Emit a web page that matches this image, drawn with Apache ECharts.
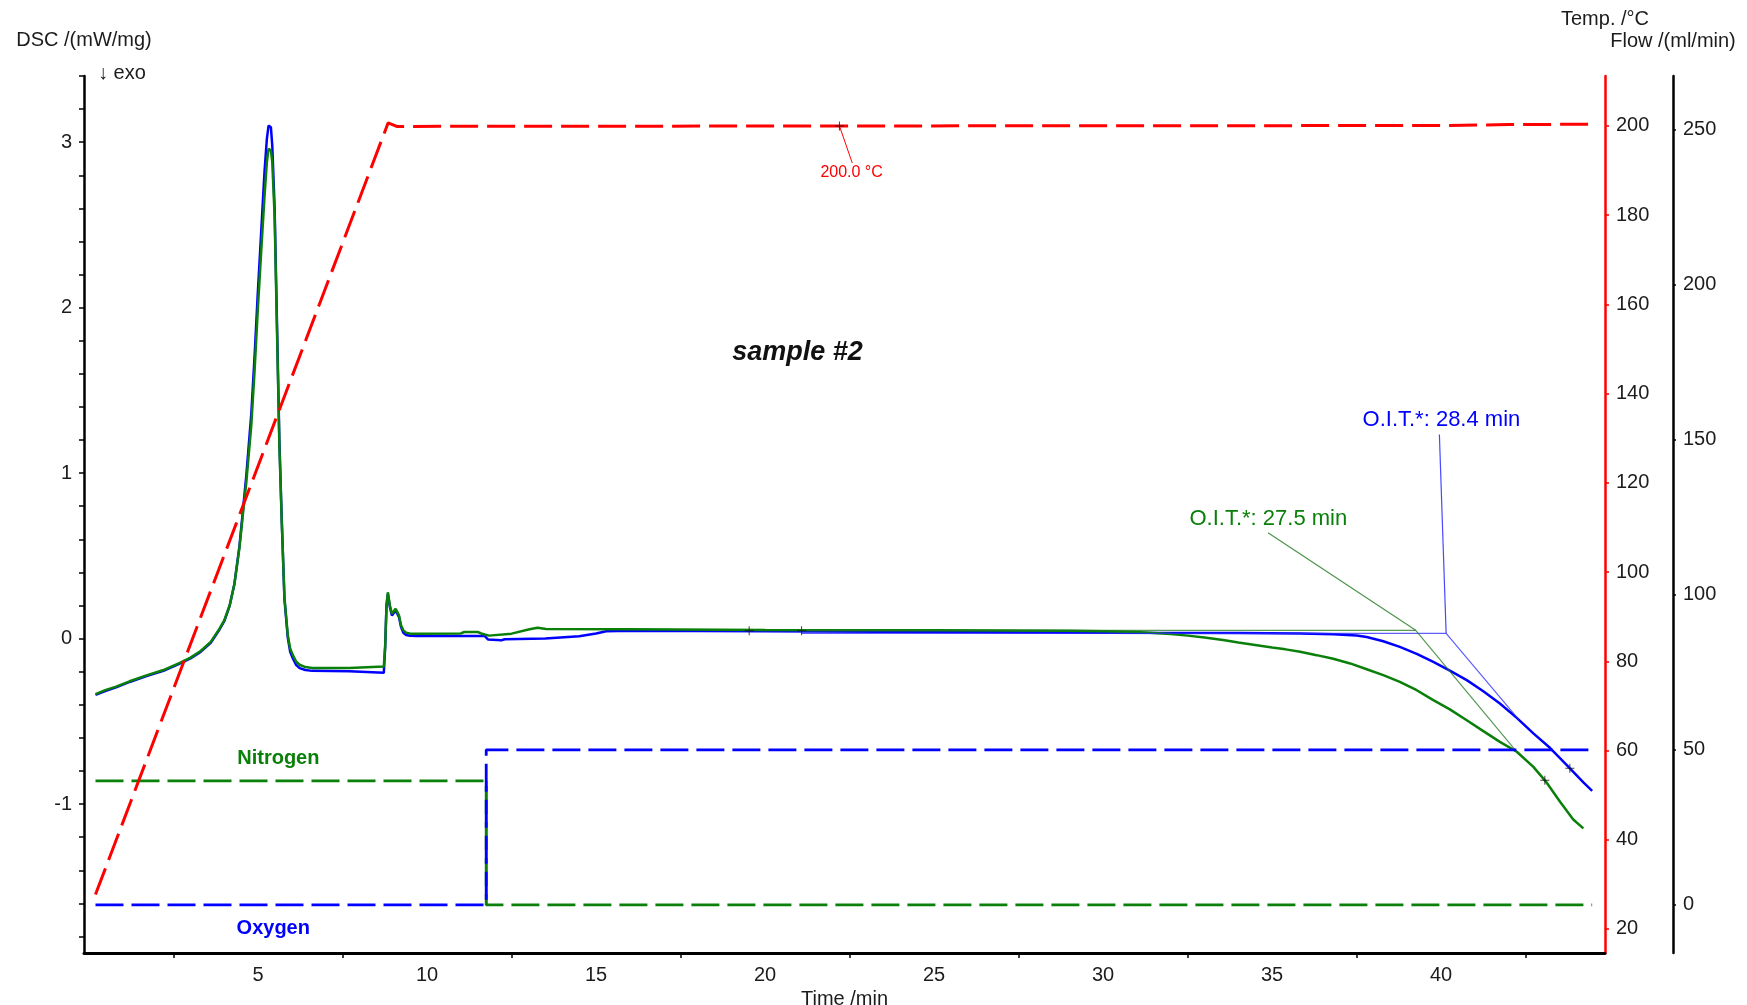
<!DOCTYPE html>
<html>
<head>
<meta charset="utf-8">
<script src="https://cdn.jsdelivr.net/npm/echarts@6/dist/echarts.min.js"></script>
<style>
  html, body { margin: 0; padding: 0; background: #fff; }
  #chart { width: 1747px; height: 1005px; }
</style>
</head>
<body>
<div id="chart"></div>
<script>
// ---- DSC curves (mW/mg) over time (min) ----
const dscTimeBlue = [0.19, 0.5, 0.8, 1.2, 1.7, 2.2, 2.7, 3.0, 3.3, 3.6, 3.86, 4.0, 4.16, 4.3, 4.45, 4.55, 4.65, 4.8, 4.9, 4.99,
  5.09, 5.19, 5.26, 5.31, 5.34, 5.38, 5.42, 5.49, 5.56, 5.63, 5.70, 5.78, 5.88, 5.95, 6.03, 6.13, 6.23, 6.4, 6.6, 7.7,
  7.72, 8.72, 8.76, 8.8, 8.84, 8.9, 8.96, 9.01, 9.07, 9.12, 9.17, 9.23, 9.3, 9.38, 9.5, 9.7, 11.7, 11.8, 12.2, 12.3,
  13.5, 14.5, 15.0, 15.3, 16.0, 20.0, 25.0, 30.0, 34.0, 35.83, 36.81, 37.5, 37.8, 38.29, 38.78, 39.28, 39.77, 40.26, 40.76, 41.25,
  41.74, 42.24, 42.73, 43.22, 43.72, 44.21, 44.47];
const dscBlue = [-0.34, -0.315, -0.295, -0.262, -0.226, -0.195, -0.15, -0.12, -0.08, -0.025, 0.055, 0.105, 0.2, 0.33, 0.56, 0.77, 0.98, 1.36, 1.72, 2.08,
  2.45, 2.82, 3.02, 3.10, 3.11, 3.09, 2.98, 2.6, 1.9, 1.2, 0.72, 0.24, 0.005, -0.08, -0.12, -0.16, -0.178, -0.19, -0.195, -0.197,
  -0.205, -0.207, -0.05, 0.2, 0.27, 0.19, 0.14, 0.13, 0.17, 0.18, 0.13, 0.07, 0.035, 0.022, 0.017, 0.016, 0.016, -0.005, -0.01, -0.004,
  0.0, 0.014, 0.031, 0.045, 0.047, 0.045, 0.04, 0.036, 0.034, 0.031, 0.027, 0.019, 0.010, -0.016, -0.050, -0.092, -0.141, -0.193, -0.251, -0.318,
  -0.392, -0.479, -0.573, -0.660, -0.765, -0.869, -0.92];

const dscTimeGreen = [0.19, 0.5, 0.8, 1.2, 1.7, 2.2, 2.7, 3.0, 3.3, 3.6, 3.86, 4.0, 4.16, 4.3, 4.45, 4.55, 4.65, 4.8, 4.9, 4.99,
  5.09, 5.19, 5.26, 5.31, 5.34, 5.38, 5.42, 5.49, 5.56, 5.63, 5.70, 5.78, 5.88, 5.95, 6.03, 6.13, 6.23, 6.4, 6.6, 7.7,
  7.72, 8.72, 8.76, 8.8, 8.84, 8.9, 8.96, 9.01, 9.07, 9.12, 9.17, 9.23, 9.3, 9.38, 9.5, 9.7, 11.0, 11.1, 11.5, 11.6,
  11.83, 12.5, 13.03, 13.27, 13.52, 16.0, 20.0, 25.0, 29.0, 30.0, 31.0, 32.0, 32.5, 33.0, 33.6, 34.0, 34.5, 35.0, 35.4, 35.83,
  36.32, 36.81, 37.31, 37.8, 38.29, 38.78, 39.28, 39.77, 40.26, 40.76, 41.25, 41.74, 42.24, 42.73, 43.09, 43.52, 43.91, 44.21];
const dscGreen = [-0.336, -0.31, -0.29, -0.258, -0.222, -0.19, -0.145, -0.115, -0.075, -0.02, 0.06, 0.11, 0.2, 0.33, 0.55, 0.75, 0.94, 1.29, 1.63, 1.98,
  2.33, 2.67, 2.88, 2.96, 2.97, 2.95, 2.88, 2.55, 1.86, 1.17, 0.71, 0.25, 0.02, -0.06, -0.10, -0.14, -0.158, -0.172, -0.177, -0.177,
  -0.168, -0.168, -0.05, 0.2, 0.28, 0.2, 0.15, 0.14, 0.18, 0.19, 0.14, 0.08, 0.05, 0.036, 0.03, 0.03, 0.031, 0.04, 0.04, 0.031,
  0.018, 0.03, 0.057, 0.066, 0.058, 0.056, 0.052, 0.05, 0.048, 0.045, 0.04, 0.028, 0.018, 0.007, -0.01, -0.024, -0.038, -0.054, -0.065, -0.080,
  -0.100, -0.122, -0.150, -0.185, -0.221, -0.261, -0.312, -0.372, -0.428, -0.493, -0.559, -0.624, -0.684, -0.775, -0.861, -0.986, -1.093, -1.147];

// ---- furnace temperature (°C) ----
const tempTime = [0.19, 8.85, 9.1, 22.2, 40.0, 42.0, 44.47];
const tempValue = [27.7, 200.7, 199.9, 200.0, 200.1, 200.3, 200.4];

// ---- purge gas flows (ml/min) ----
const gasSwitch = 11.75;
const flowTime = [0.19, gasSwitch, gasSwitch, 44.47];
const nitrogenFlow = [40, 40, 0, 0];
const oxygenFlow = [0, 0, 50, 50];

// ---- oxidation induction time evaluation ----
const oitBlue = 28.4, oitGreen = 27.5;
const baselineBlue = 0.031, baselineGreen = 0.05;
const baselineStart = 21.08;
const tangentEndBlue = [42.3, -0.49];
const tangentEndGreen = [42.24, -0.684];
const leaderStartBlue = [39.95, 1.233];
const leaderStartGreen = [34.88, 0.639];
const evalPoints = [[19.53, 0.047], [21.08, 0.047]];
const curveMarks = [[43.81, -0.784], [43.07, -0.856]];
const tempMark = [22.2, 200.0];
const tempLeaderEnd = [22.58, 191.7];

// ---- axis ticks and labels ----
const timeLabels = [5, 10, 15, 20, 25, 30, 35, 40];
const timeTicks = [2.5, 7.5, 12.5, 17.5, 22.5, 27.5, 32.5, 37.5, 42.5];
const dscLabels = [-1, 0, 1, 2, 3];
const tempLabels = [20, 40, 60, 80, 100, 120, 140, 160, 180, 200];
const flowLabels = [0, 50, 100, 150, 200, 250];

const dscMinorTicks = [];
for (let k = -9; k <= 17; k++) dscMinorTicks.push(Math.round(k * 2) / 10);

const FONT = "'Liberation Sans', Arial, sans-serif";
const TXT = '#1c1c1c';
const BLUE = '#0000ff', GREEN = '#0a800a', RED = '#ff0000';

const zip = (xs, ys) => xs.map((x, i) => [x, ys[i]]);
const vBlue = [gasSwitch + oitBlue, baselineBlue];
const vGreen = [gasSwitch + oitGreen, baselineGreen];
const plusSymbol = 'path://M4,0H5V9H4ZM0,4H9V5H0Z';

const chart = echarts.init(document.getElementById('chart'), null, { renderer: 'canvas' });

const labelStyle = { fontFamily: FONT, fontSize: 20, color: TXT };

chart.setOption({
  animation: false,
  backgroundColor: '#fff',
  grid: { left: 84, right: 142, top: 76, bottom: 52, containLabel: false, outerBoundsMode: 'none' },
  xAxis: {
    type: 'value', min: -0.15, max: 44.85,
    name: 'Time /min', nameLocation: 'middle', nameGap: 27,
    nameTextStyle: { fontFamily: FONT, fontSize: 20, color: TXT },
    axisLine: { show: true, onZero: false, lineStyle: { color: '#000', width: 3 } },
    axisTick: { show: true, customValues: timeTicks, length: 5, lineStyle: { color: '#000', width: 1.5 } },
    axisLabel: Object.assign({ customValues: timeLabels, margin: 12 }, labelStyle),
    splitLine: { show: false }
  },
  yAxis: [
    {
      type: 'value', position: 'left', min: -1.9, max: 3.4,
      name: 'DSC /(mW/mg)', nameLocation: 'end', nameGap: 26,
      nameTextStyle: { fontFamily: FONT, fontSize: 20, color: TXT },
      axisLine: { show: true, onZero: false, lineStyle: { color: '#000', width: 2.5 } },
      axisTick: { show: true, customValues: dscMinorTicks, length: 5, lineStyle: { color: '#000', width: 1.5 } },
      axisLabel: Object.assign({ customValues: dscLabels, margin: 12 }, labelStyle),
      splitLine: { show: false }
    },
    {
      type: 'value', position: 'right', offset: 0, min: 14.6, max: 211.2,
      name: 'Temp. /°C', nameLocation: 'end', nameGap: 47,
      nameTextStyle: { fontFamily: FONT, fontSize: 20, color: TXT },
      axisLine: { show: true, onZero: false, lineStyle: { color: RED, width: 2.5 } },
      axisTick: { show: true, customValues: tempLabels, length: 4, lineStyle: { color: RED, width: 1.5 } },
      axisLabel: Object.assign({ customValues: tempLabels, margin: 11 }, labelStyle),
      splitLine: { show: false }
    },
    {
      type: 'value', position: 'right', offset: 68, min: -15.5, max: 267.2,
      name: 'Flow /(ml/min)', nameLocation: 'end', nameGap: 25,
      nameTextStyle: { fontFamily: FONT, fontSize: 20, color: TXT },
      axisLine: { show: true, onZero: false, lineStyle: { color: '#000', width: 2.5 } },
      axisTick: { show: true, customValues: flowLabels, length: 3, lineStyle: { color: '#000', width: 1.5 } },
      axisLabel: Object.assign({ customValues: flowLabels, margin: 10 }, labelStyle),
      splitLine: { show: false }
    }
  ],
  series: [
    { name: 'DSC blue', type: 'line', yAxisIndex: 0, data: zip(dscTimeBlue, dscBlue), showSymbol: false,
      lineStyle: { color: BLUE, width: 2.5 }, z: 3 },
    { name: 'DSC green', type: 'line', yAxisIndex: 0, data: zip(dscTimeGreen, dscGreen), showSymbol: false,
      lineStyle: { color: GREEN, width: 2.5 }, z: 4 },
    // evaluation construction: baseline, onset tangent and label leader
    { type: 'line', yAxisIndex: 0, data: [[baselineStart, baselineBlue], vBlue, tangentEndBlue], showSymbol: false,
      lineStyle: { color: 'rgba(40,40,255,0.75)', width: 1.2 }, z: 5 },
    { type: 'line', yAxisIndex: 0, data: [leaderStartBlue, vBlue], showSymbol: false,
      lineStyle: { color: 'rgba(40,40,255,0.85)', width: 1.2 }, z: 5 },
    { type: 'line', yAxisIndex: 0, data: [[baselineStart, baselineGreen], vGreen, tangentEndGreen], showSymbol: false,
      lineStyle: { color: 'rgba(30,120,30,0.75)', width: 1.2 }, z: 5 },
    { type: 'line', yAxisIndex: 0, data: [leaderStartGreen, vGreen], showSymbol: false,
      lineStyle: { color: 'rgba(30,120,30,0.8)', width: 1.2 }, z: 5 },
    // gas flows; the nitrogen switch-off edge is drawn solid underneath
    { type: 'line', yAxisIndex: 2, data: zip(flowTime, nitrogenFlow).slice(1, 3), showSymbol: false,
      lineStyle: { color: GREEN, width: 2.5 }, z: 5 },
    { name: 'Nitrogen', type: 'line', yAxisIndex: 2, data: zip(flowTime, nitrogenFlow), showSymbol: false,
      lineStyle: { color: GREEN, width: 2.8, type: [28, 8] }, z: 6 },
    { name: 'Oxygen', type: 'line', yAxisIndex: 2, data: zip(flowTime, oxygenFlow), showSymbol: false,
      lineStyle: { color: BLUE, width: 2.8, type: [28, 8] }, z: 6 },
    { name: 'Temp', type: 'line', yAxisIndex: 1, data: zip(tempTime, tempValue), showSymbol: false,
      lineStyle: { color: RED, width: 3, type: [28, 9] }, z: 7 },
    { type: 'line', yAxisIndex: 1, data: [tempMark, tempLeaderEnd], showSymbol: false,
      lineStyle: { color: RED, width: 1 }, z: 7 },
    { type: 'scatter', yAxisIndex: 0, data: evalPoints.concat(curveMarks), symbol: plusSymbol, symbolSize: 9,
      itemStyle: { color: '#111' }, z: 8 },
    { type: 'scatter', yAxisIndex: 1, data: [tempMark], symbol: plusSymbol, symbolSize: 9,
      itemStyle: { color: '#111' }, z: 8 }
  ]
});

// Annotation texts anchored in data coordinates
const at = (axis, p) => chart.convertToPixel({ xAxisIndex: 0, yAxisIndex: axis }, p);
const textEl = (axis, p, text, style) => {
  const px = at(axis, p);
  return { type: 'text', x: px[0], y: px[1], z: 20,
    style: Object.assign({ text: text, fontFamily: FONT, align: 'center', verticalAlign: 'middle' }, style) };
};

chart.setOption({
  graphic: [
    textEl(0, [20.96, 1.73], 'sample #2', { fontSize: 27, fontWeight: 'bold', fontStyle: 'italic', fill: '#111' }),
    textEl(0, [gasSwitch + oitBlue - 0.14, 1.319], 'O.I.T.*: ' + oitBlue.toFixed(1) + ' min', { fontSize: 22, fill: BLUE }),
    textEl(0, [34.89, 0.721], 'O.I.T.*: ' + oitGreen.toFixed(1) + ' min', { fontSize: 22, fill: GREEN }),
    textEl(1, [22.56, 189.5], tempMark[1].toFixed(1) + ' °C', { fontSize: 16, fill: RED }),
    textEl(2, [5.6, 47.3], 'Nitrogen', { fontSize: 20, fontWeight: 'bold', fill: GREEN }),
    textEl(2, [5.45, -7.7], 'Oxygen', { fontSize: 20, fontWeight: 'bold', fill: BLUE }),
    { type: 'text', x: 98, y: 73, z: 20,
      style: { text: '↓ exo', fontFamily: FONT, fontSize: 20, fill: TXT, align: 'left', verticalAlign: 'middle' } }
  ]
});
</script>
</body>
</html>
